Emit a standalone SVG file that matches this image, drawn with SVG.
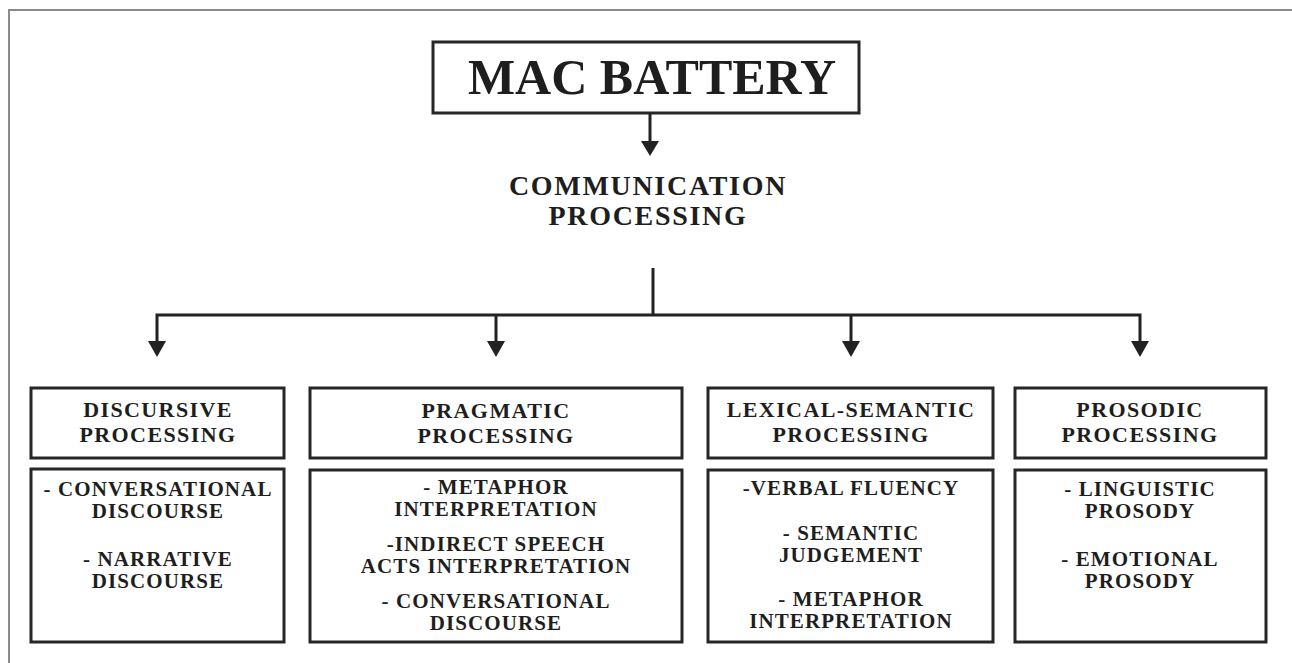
<svg xmlns="http://www.w3.org/2000/svg" width="1292" height="663" viewBox="0 0 1292 663">
<defs>
<style>
.box{fill:#fff;stroke:#262626;stroke-width:3}
.t{font-family:"Liberation Serif","Times New Roman",serif;font-weight:bold;fill:#1e1e1e;text-anchor:middle}
.h{font-size:22px;letter-spacing:1.4px}
.c{font-size:21px;letter-spacing:1.1px}
.ln{stroke:#222;stroke-width:3;fill:none}
.ah{fill:#222}
</style>
</defs>
<rect width="1292" height="663" fill="#fff"/>
<path d="M9,663 L9,10 L1292,10" fill="none" stroke="#8a8a8a" stroke-width="2"/>

<g id="mac-battery">
<rect class="box" x="433" y="42" width="426" height="71"/>
<text class="t" x="652" y="94" font-size="50">MAC BATTERY</text>
</g>

<g id="communication-processing">
<text class="t" x="648" y="195" font-size="28" letter-spacing="1.7">COMMUNICATION</text>
<text class="t" x="648" y="225" font-size="28" letter-spacing="1.7">PROCESSING</text>
</g>

<g id="connectors">
<line class="ln" x1="650" y1="113" x2="650" y2="141"/>
<path class="ah" d="M641,141 L659,141 L650,156 Z"/>
<line class="ln" x1="653" y1="268" x2="653" y2="315"/>
<path class="ln" d="M157,341 L157,315 L1140,315 L1140,341"/>
<line class="ln" x1="496" y1="315" x2="496" y2="341"/>
<line class="ln" x1="851" y1="315" x2="851" y2="341"/>
<path class="ah" d="M148,341 L166,341 L157,357 Z"/>
<path class="ah" d="M487,341 L505,341 L496,357 Z"/>
<path class="ah" d="M842,341 L860,341 L851,357 Z"/>
<path class="ah" d="M1131,341 L1149,341 L1140,357 Z"/>
</g>

<g id="discursive">
<rect class="box" x="31" y="388" width="253" height="70"/>
<text class="t h" x="158" y="417">DISCURSIVE</text>
<text class="t h" x="158" y="442">PROCESSING</text>
<rect class="box" x="31" y="469" width="253" height="173"/>
<text class="t c" x="158" y="496">- CONVERSATIONAL</text>
<text class="t c" x="158" y="518">DISCOURSE</text>
<text class="t c" x="158" y="566">- NARRATIVE</text>
<text class="t c" x="158" y="588">DISCOURSE</text>
</g>

<g id="pragmatic">
<rect class="box" x="310" y="388" width="372" height="70"/>
<text class="t h" x="496" y="418">PRAGMATIC</text>
<text class="t h" x="496" y="443">PROCESSING</text>
<rect class="box" x="310" y="470" width="372" height="172"/>
<text class="t c" x="496" y="494">- METAPHOR</text>
<text class="t c" x="496" y="516">INTERPRETATION</text>
<text class="t c" x="496" y="551">-INDIRECT SPEECH</text>
<text class="t c" x="496" y="573">ACTS INTERPRETATION</text>
<text class="t c" x="496" y="608">- CONVERSATIONAL</text>
<text class="t c" x="496" y="630">DISCOURSE</text>
</g>

<g id="lexical-semantic">
<rect class="box" x="708" y="388" width="285" height="70"/>
<text class="t h" x="851" y="417">LEXICAL-SEMANTIC</text>
<text class="t h" x="851" y="442">PROCESSING</text>
<rect class="box" x="708" y="470" width="285" height="172"/>
<text class="t c" x="851" y="495">-VERBAL FLUENCY</text>
<text class="t c" x="851" y="540">- SEMANTIC</text>
<text class="t c" x="851" y="562">JUDGEMENT</text>
<text class="t c" x="851" y="606">- METAPHOR</text>
<text class="t c" x="851" y="628">INTERPRETATION</text>
</g>

<g id="prosodic">
<rect class="box" x="1015" y="388" width="251" height="70"/>
<text class="t h" x="1140" y="417">PROSODIC</text>
<text class="t h" x="1140" y="442">PROCESSING</text>
<rect class="box" x="1015" y="470" width="251" height="172"/>
<text class="t c" x="1140" y="496">- LINGUISTIC</text>
<text class="t c" x="1140" y="518">PROSODY</text>
<text class="t c" x="1140" y="566">- EMOTIONAL</text>
<text class="t c" x="1140" y="588">PROSODY</text>
</g>
</svg>
